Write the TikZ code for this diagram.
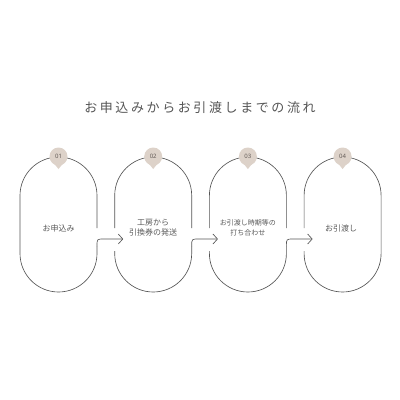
\documentclass[tikz,border=0pt]{standalone}
\usepackage{fontspec}
\newfontfamily\jp{Noto Sans CJK JP}
\newfontfamily\jpt{Noto Sans CJK JP}[LetterSpace=20]
\newfontfamily\numfont{Noto Sans}
\usetikzlibrary{arrows.meta}
\definecolor{linec}{RGB}{85,85,85}
\definecolor{badgec}{RGB}{221,210,201}
\definecolor{textc}{RGB}{90,90,90}
\definecolor{numc}{RGB}{100,92,88}
\begin{document}
\begin{tikzpicture}[x=1pt,y=-1pt,
  outline/.style={draw=linec,line width=0.65pt},
  conn/.style={outline,-{Straight Barb[length=4.5pt,width=10pt,line width=0.65pt]}},
  pilltext/.style={text=textc,font=\jp\fontsize{8}{10}\selectfont,align=center,inner sep=0pt},
  smalltext/.style={text=textc,font=\jp\fontsize{7}{10}\selectfont,align=center,inner sep=0pt},
  badgetext/.style={text=numc,font=\numfont\fontsize{6}{6}\selectfont,inner sep=0pt},
  badge/.style={fill=badgec}]
\useasboundingbox[fill=white] (0,0) rectangle (400,400);

\node[text=linec,font=\jpt\fontsize{13}{15}\selectfont,inner sep=0pt] (title) at (200,108) {お申込みからお引渡しまでの流れ};

% arrow tips
\coordinate (t2) at (123.2,239);
\coordinate (t3) at (217.9,239);
\coordinate (t4) at (312.6,239);

% pill 1
\draw[outline] (97,228) -- (97,195.5) arc[start angle=0,end angle=-180,radius=38.5] -- (20,253.5) arc[start angle=180,end angle=0,radius=38.5] -- (97,246);
\draw[conn] (97,246) .. controls (97,239) .. (104,239) -- (t2);
% pill 2
\draw[outline] (191.7,228) -- (191.7,195.5) arc[start angle=0,end angle=-180,radius=38.5] -- (114.7,228);
\draw[outline] (114.7,251) -- (114.7,253.5) arc[start angle=180,end angle=0,radius=38.5] -- (191.7,246);
\draw[conn] (191.7,246) .. controls (191.7,239) .. (198.7,239) -- (t3);
% pill 3
\draw[outline] (286.4,228) -- (286.4,195.5) arc[start angle=0,end angle=-180,radius=38.5] -- (209.4,228);
\draw[outline] (209.4,251) -- (209.4,253.5) arc[start angle=180,end angle=0,radius=38.5] -- (286.4,246);
\draw[conn] (286.4,246) .. controls (286.4,239) .. (293.4,239) -- (t4);
% pill 4
\draw[outline] (304.1,228) -- (304.1,195.5) arc[start angle=180,end angle=360,radius=38.5] -- (381.1,253.5) arc[start angle=0,end angle=180,radius=38.5] -- (304.1,251);

% badges
\foreach \c/\n in {58.5/01,153.2/02,247.9/03,342.6/04}{
  \fill[badge] (\c,156.5) circle[radius=9];
  \fill[badge] (\c-6.5,161) -- (\c+6.5,161) -- (\c,169) -- cycle;
  \node[badgetext] (b\n) at (\c,156.5) {\n};
}

% texts
\node[pilltext] (s1) at (58.5,228) {お申込み};
\node[pilltext] (s2) at (153.2,228) {工房から\\引換券の発送};
\node[smalltext] (s3) at (247.9,228) {お引渡し時期等の\\打ち合わせ};
\node[pilltext] (s4) at (341,228) {お引渡し};
\end{tikzpicture}
\end{document}
